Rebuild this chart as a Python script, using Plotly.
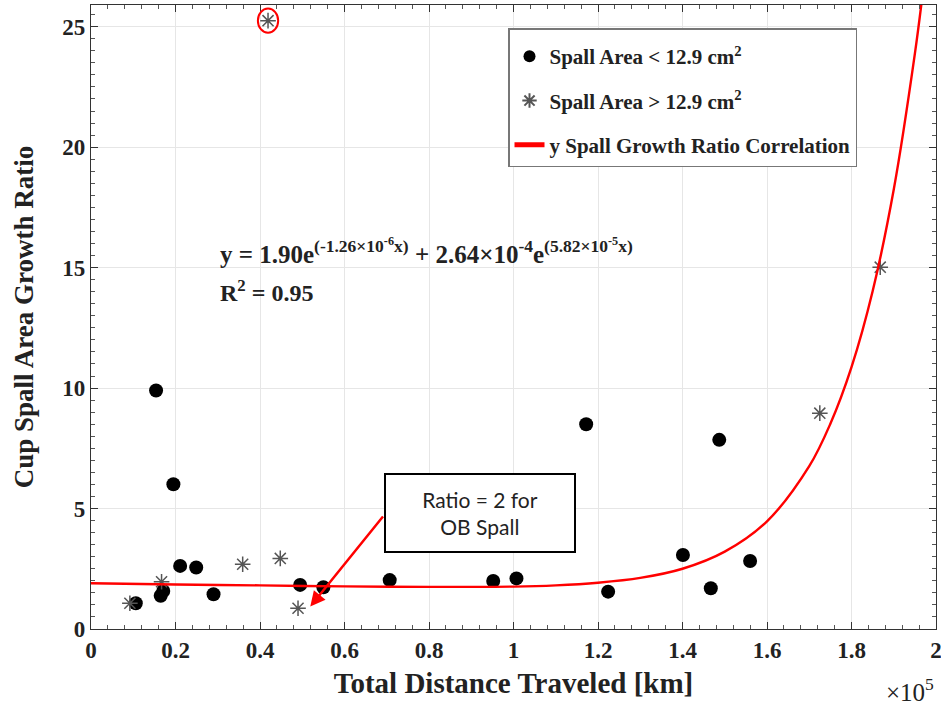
import plotly.graph_objects as go

# Spall Area < 12.9 cm^2 (x in units of 1e5 km)
small_x = [0.106, 0.165, 0.171, 0.154, 0.195, 0.211, 0.249, 0.290, 0.495, 0.550, 0.707,
           0.952, 1.007, 1.172, 1.224, 1.401, 1.467, 1.487, 1.560]
small_y = [1.07, 1.38, 1.58, 9.90, 6.01, 2.62, 2.55, 1.44, 1.83, 1.73, 2.03,
           1.99, 2.10, 8.50, 1.55, 3.07, 1.69, 7.85, 2.82]

# Spall Area > 12.9 cm^2
large_x = [0.092, 0.167, 0.359, 0.419, 0.448, 0.490, 1.725, 1.868]
large_y = [1.07, 1.96, 2.69, 25.25, 2.93, 0.86, 8.96, 15.02]

# Correlation curve
curve_x = [0.0, 0.2, 0.4, 0.6, 0.8, 1.0, 1.1, 1.2, 1.3, 1.4, 1.5, 1.6, 1.7, 1.75, 1.8,
           1.85, 1.9, 1.95, 1.97]
curve_y = [1.90, 1.85, 1.81, 1.77, 1.75, 1.76, 1.81, 1.92, 2.12, 2.50, 3.21, 4.47, 6.76,
           8.52, 10.87, 14.02, 18.24, 23.88, 26.6]

x_ticks = [0, 0.2, 0.4, 0.6, 0.8, 1, 1.2, 1.4, 1.6, 1.8, 2]
x_tick_labels = ["0", "0.2", "0.4", "0.6", "0.8", "1", "1.2", "1.4", "1.6", "1.8", "2"]
y_ticks = [0, 5, 10, 15, 20, 25]

serif = "Liberation Serif"
ink = "#222222"

fig = go.Figure()
fig.add_trace(go.Scatter(
    x=small_x, y=small_y, mode="markers", name="<b>Spall Area < 12.9 cm<sup>2</sup></b>",
    legendgroup="a",
    marker=dict(symbol="circle", size=14, color="black"),
))
fig.add_trace(go.Scatter(
    x=large_x, y=large_y, mode="markers", name="<b>Spall Area > 12.9 cm<sup>2</sup></b>",
    legendgroup="b",
    marker=dict(symbol="asterisk-open", size=13, color="#555555", line=dict(color="#555555", width=1.5)),
))
fig.add_trace(go.Scatter(
    x=curve_x, y=curve_y, mode="lines", name="<b>y Spall Growth Ratio Correlation</b>",
    legendgroup="c",
    line=dict(color="red", width=2.4, shape="spline"),
))

fig.update_layout(
    width=941, height=706,
    margin=dict(l=91, r=5, t=5, b=77),
    plot_bgcolor="white", paper_bgcolor="white",
    font=dict(family=serif, color=ink, size=18),
    showlegend=True,
    legend=dict(
        x=0.4935, y=0.963, xanchor="left", yanchor="top",
        bgcolor="white", bordercolor="#777777", borderwidth=1.5,
        font=dict(family=serif, size=21, color=ink),
        title=dict(text=" ", font=dict(size=5)),
        itemsizing="constant", tracegroupgap=14,
    ),
    xaxis=dict(
        range=[0, 2], tickvals=x_ticks, ticktext=[f"<b>{t}</b>" for t in x_tick_labels],
        ticklabeloverflow="allow", automargin="height",
        showgrid=True, gridcolor="#e6e6e6", zeroline=False,
        showline=True, linecolor="#333333", linewidth=1.2, mirror="ticks",
        ticks="inside", ticklen=7, tickcolor="#333333",
        minor=dict(dtick=0.04, ticks="inside", ticklen=4, tickcolor="#555555", showgrid=False),
        tickfont=dict(family=serif, size=23, color=ink),
        title=dict(text="<b>Total Distance Traveled [km]</b>", font=dict(family=serif, size=29, color=ink), standoff=10),
    ),
    yaxis=dict(
        range=[0, 25.9], tickvals=y_ticks, ticktext=[f"<b>{t}</b>" for t in y_ticks],
        showgrid=True, gridcolor="#e6e6e6", zeroline=False,
        showline=True, linecolor="#333333", linewidth=1.2, mirror="ticks",
        ticks="inside", ticklen=7, tickcolor="#333333",
        minor=dict(dtick=0.5, ticks="inside", ticklen=4, tickcolor="#555555", showgrid=False),
        tickfont=dict(family=serif, size=23, color=ink),
        title=dict(text="<b>Cup Spall Area Growth Ratio</b>", font=dict(family=serif, size=27, color=ink), standoff=20),
    ),
)

# x10^5 multiplier
fig.add_annotation(xref="paper", yref="paper", x=1.0, y=-0.098, xanchor="right", yanchor="middle",
                   text="×10<sup>5</sup>", showarrow=False,
                   font=dict(family=serif, size=25, color=ink))

# Equation
fig.add_annotation(xref="x", yref="y", x=0.3, y=15.7, xanchor="left", yanchor="middle",
                   text="<b>y = 1.90e<sup>(-1.26×10<sup>-6</sup>x)</sup> + 2.64×10<sup>-4</sup>e<sup>(5.82×10<sup>-5</sup>x)</sup></b>",
                   showarrow=False, font=dict(family=serif, size=25, color=ink))
fig.add_annotation(xref="x", yref="y", x=0.3, y=14.05, xanchor="left", yanchor="middle",
                   text="<b>R<sup>2</sup> = 0.95</b>",
                   showarrow=False, font=dict(family=serif, size=24, color=ink))

# Ellipse around outlier
fig.add_shape(type="circle", xref="x", yref="y", x0=0.395, x1=0.443, y0=24.75, y1=25.75,
              line=dict(color="red", width=2))

# Callout box with arrow
fig.add_annotation(xref="x", yref="y", x=0.519, y=0.93, ax=0.694, ay=4.73, axref="x", ayref="y",
                   text="", showarrow=True, arrowhead=2, arrowsize=1.2, arrowwidth=2.5, arrowcolor="red")
fig.add_annotation(xref="x", yref="y", x=0.9206, y=4.8, xanchor="center", yanchor="middle",
                   text="Ratio = 2 for<br>OB Spall", showarrow=False, align="center",
                   font=dict(family="Lato", size=21, color=ink),
                   bgcolor="white", bordercolor="black", borderwidth=2, borderpad=9,
                   width=170, height=58)

fig.write_html("out.html")
